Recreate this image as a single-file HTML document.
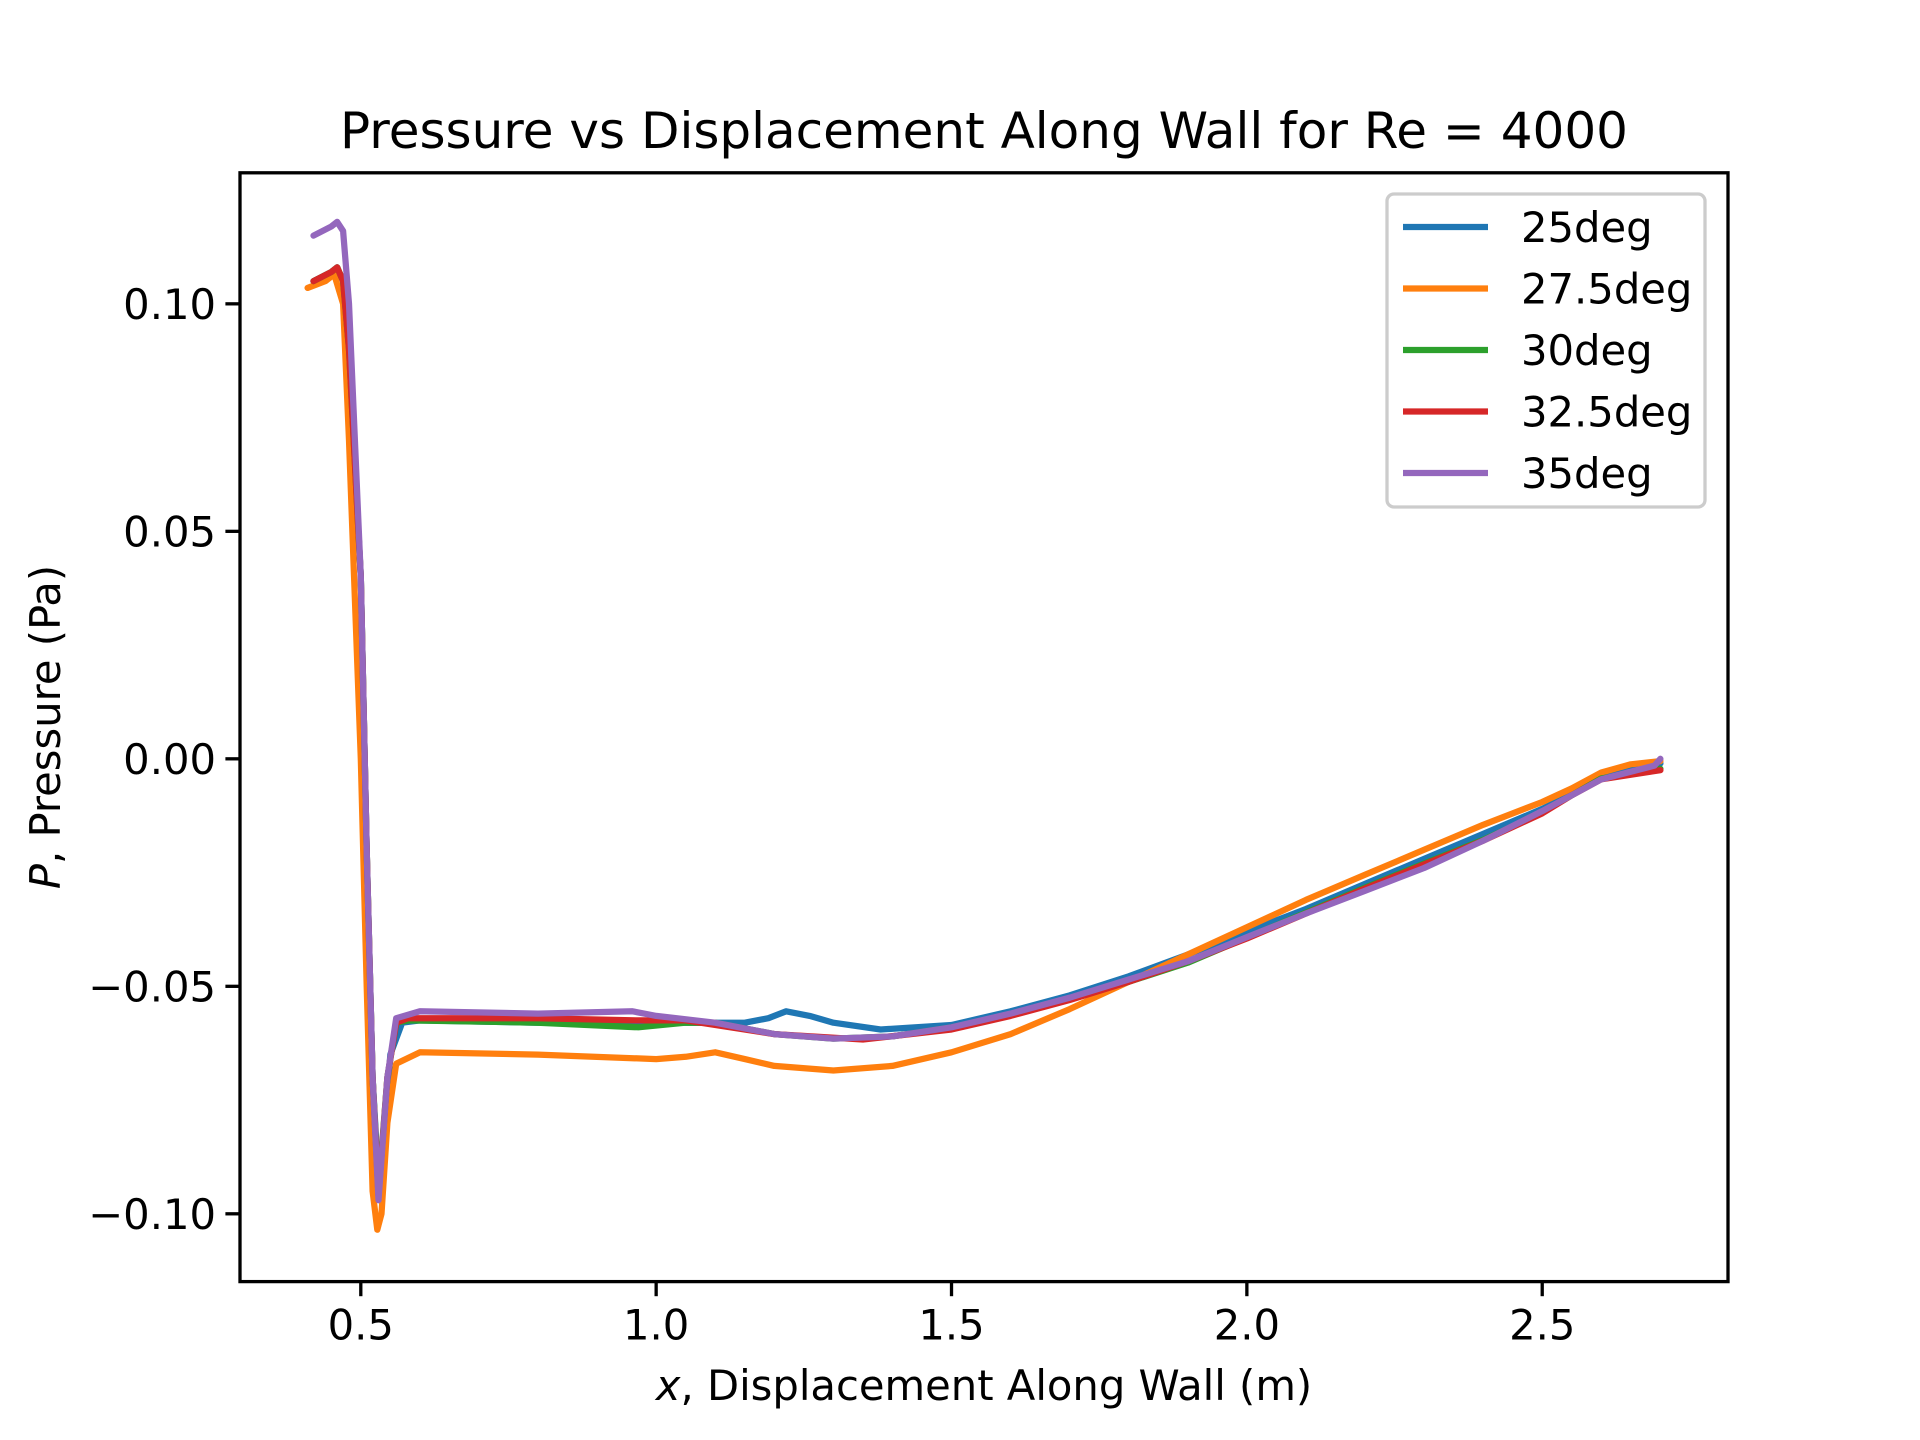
<!DOCTYPE html>
<html><head><meta charset="utf-8"><style>
html,body{margin:0;padding:0;background:#fff;}
svg{display:block;font-family:"DejaVu Sans","Liberation Sans",sans-serif;}
</style></head><body>
<svg id="chart" width="1920" height="1440" viewBox="0 0 1920 1440">
<rect width="1920" height="1440" fill="#fff"/>
<text x="984" y="148" font-size="50" text-anchor="middle">Pressure vs Displacement Along Wall for Re = 4000</text>
<g id="xticks"></g>
<g id="yticks"></g>
<g id="series"></g>
<rect x="240" y="172.8" width="1488" height="1108.8" fill="none" stroke="#000" stroke-width="3.3"/>
<text x="984" y="1400" font-size="41.7" text-anchor="middle"><tspan font-style="italic">x</tspan>, Displacement Along Wall (m)</text>
<text transform="translate(60,727) rotate(-90)" font-size="41.7" text-anchor="middle"><tspan font-style="italic">P</tspan>, Pressure (Pa)</text>
<g id="legend"></g>
</svg>
<script>
const seriesNames = ["25deg","27.5deg","30deg","32.5deg","35deg"];
const seriesColors = ["#1f77b4","#ff7f0e","#2ca02c","#d62728","#9467bd"];
const xTicks = [0.5,1.0,1.5,2.0,2.5];
const xTickLabels = ["0.5","1.0","1.5","2.0","2.5"];
const yTicks = [-0.10,-0.05,0.0,0.05,0.10];
const yTickLabels = ["\u22120.10","\u22120.05","0.00","0.05","0.10"];
const x25 = [0.42,0.45,0.46,0.47,0.48,0.50,0.51,0.52,0.53,0.54,0.55,0.57,0.6,0.8,1.0,1.15,1.19,1.22,1.26,1.3,1.38,1.5,1.6,1.7,1.8,1.9,2.0,2.1,2.2,2.3,2.4,2.5,2.55,2.6,2.65,2.7];
const y25 = [0.105,0.107,0.108,0.105,0.09,0.04,-0.02,-0.07,-0.093,-0.085,-0.065,-0.058,-0.0575,-0.058,-0.058,-0.058,-0.057,-0.0555,-0.0565,-0.058,-0.0595,-0.0585,-0.0555,-0.052,-0.0478,-0.043,-0.038,-0.033,-0.0275,-0.022,-0.0165,-0.011,-0.0078,-0.004,-0.002,-0.001];
const x275 = [0.41,0.44,0.455,0.47,0.48,0.50,0.51,0.52,0.528,0.535,0.545,0.56,0.6,0.8,1.0,1.05,1.1,1.15,1.2,1.3,1.4,1.5,1.6,1.7,1.8,1.9,2.0,2.1,2.2,2.3,2.4,2.5,2.55,2.6,2.65,2.7];
const y275 = [0.1035,0.105,0.1065,0.1,0.07,0.0,-0.05,-0.095,-0.1035,-0.1,-0.08,-0.067,-0.0645,-0.065,-0.066,-0.0655,-0.0645,-0.066,-0.0675,-0.0685,-0.0675,-0.0645,-0.0605,-0.055,-0.049,-0.043,-0.037,-0.031,-0.0255,-0.02,-0.0145,-0.0095,-0.0065,-0.003,-0.0012,-0.0005];
const x30 = [0.42,0.45,0.46,0.47,0.48,0.50,0.51,0.52,0.53,0.545,0.56,0.58,0.8,0.97,1.05,1.1,1.2,1.3,1.4,1.5,1.6,1.7,1.8,1.9,2.0,2.1,2.2,2.3,2.4,2.5,2.55,2.6,2.7];
const y30 = [0.105,0.107,0.108,0.105,0.09,0.04,-0.02,-0.07,-0.095,-0.07,-0.058,-0.0575,-0.058,-0.059,-0.058,-0.058,-0.0605,-0.0615,-0.061,-0.059,-0.0562,-0.0528,-0.049,-0.0448,-0.0393,-0.0338,-0.0283,-0.023,-0.0178,-0.0118,-0.008,-0.0043,-0.0022];
const x325 = [0.42,0.45,0.46,0.47,0.48,0.50,0.51,0.52,0.53,0.545,0.56,0.58,0.8,0.97,1.05,1.2,1.35,1.5,1.6,1.7,1.8,1.9,2.0,2.1,2.2,2.3,2.4,2.5,2.55,2.6,2.7];
const y325 = [0.105,0.107,0.108,0.105,0.09,0.04,-0.02,-0.07,-0.096,-0.07,-0.058,-0.057,-0.057,-0.0575,-0.0575,-0.0605,-0.0617,-0.0595,-0.0565,-0.053,-0.049,-0.0445,-0.0395,-0.034,-0.0285,-0.0232,-0.018,-0.012,-0.008,-0.0045,-0.0025];
const x35 = [0.42,0.45,0.46,0.47,0.48,0.50,0.51,0.52,0.53,0.545,0.56,0.6,0.8,0.96,1.0,1.1,1.2,1.3,1.4,1.5,1.6,1.7,1.8,1.9,2.0,2.1,2.2,2.3,2.4,2.5,2.55,2.6,2.69,2.7];
const y35 = [0.115,0.117,0.118,0.116,0.1,0.04,-0.02,-0.07,-0.097,-0.07,-0.057,-0.0555,-0.056,-0.0555,-0.0565,-0.058,-0.0605,-0.0615,-0.061,-0.059,-0.056,-0.0525,-0.0485,-0.0445,-0.0392,-0.034,-0.029,-0.024,-0.018,-0.0115,-0.008,-0.0045,-0.0015,0.0];
const seriesX = [x25,x275,x30,x325,x35];
const seriesY = [y25,y275,y30,y325,y35];

const L=240,R=1728,T=172.8,B=1281.6;
const X0=0.2955,X1=2.8145,Y0=-0.1149,Y1=0.1288;
function sx(v){return L+(v-X0)/(X1-X0)*(R-L);}
function sy(v){return B-(v-Y0)/(Y1-Y0)*(B-T);}
const NS="http://www.w3.org/2000/svg";
function mk(tag,attrs,parent){const e=document.createElementNS(NS,tag);for(const k in attrs)e.setAttribute(k,attrs[k]);parent.appendChild(e);return e;}

const gx=document.getElementById('xticks');
xTicks.forEach((v,i)=>{
  const l=mk('line',{x1:sx(v),x2:sx(v),y1:B,y2:B+14.6,stroke:'#000','stroke-width':3.3},gx);
  
  
  const t=mk('text',{x:sx(v),y:B+58,'font-size':41.7,'text-anchor':'middle'},gx);
  
  
  t.textContent=xTickLabels[i];
});
const gy=document.getElementById('yticks');
yTicks.forEach((v,i)=>{
  const l=mk('line',{x1:L-14.6,x2:L,y1:sy(v),y2:sy(v),stroke:'#000','stroke-width':3.3},gy);
  
  
  const t=mk('text',{x:L-24,y:sy(v)+15,'font-size':41.7,'text-anchor':'end'},gy);
  
  
  t.textContent=yTickLabels[i];
});
const gs=document.getElementById('series');
seriesNames.forEach((n,i)=>{
  const pts=seriesX[i].map((x,j)=>sx(x).toFixed(1)+','+sy(seriesY[i][j]).toFixed(1)).join(' ');
  const p=mk('polyline',{points:pts,fill:'none',stroke:seriesColors[i],'stroke-width':6.25,'stroke-linejoin':'round','stroke-linecap':'round'},gs);
  
  
});
const lg=document.getElementById('legend');
const box=mk('rect',{x:1387,y:194,width:318,height:313,rx:7,fill:'#fff','fill-opacity':0.8,stroke:'#ccc','stroke-width':3.3},lg);


seriesNames.forEach((n,i)=>{
  const yy=227+i*61.5;
  const l=mk('line',{x1:1403,x2:1488,y1:yy,y2:yy,stroke:seriesColors[i],'stroke-width':6.25},lg);
  
  
  const t=mk('text',{x:1521,y:yy+15,'font-size':41.7},lg);
  
  
  t.textContent=n;
});
</script>
</body></html>
